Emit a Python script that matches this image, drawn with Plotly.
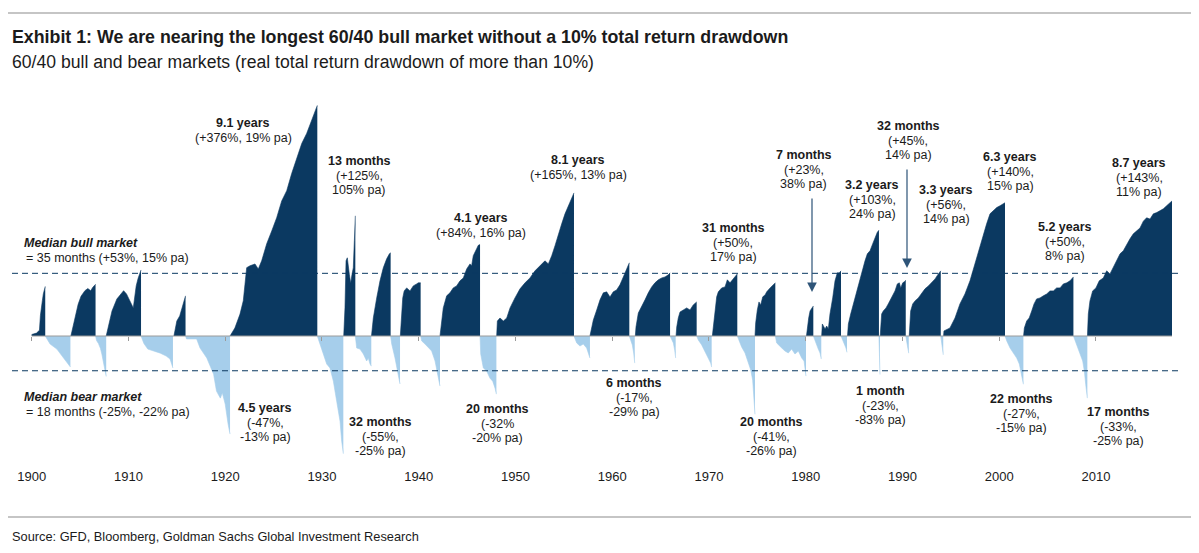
import numpy as np
import plotly.graph_objects as go

# ---------------- data ----------------
# cumulative real total return (%) within each bull phase, by decimal year
BULL_YEARS = [
    [1900.0, 1900.5, 1900.8, 1900.9, 1901.1, 1901.2, 1901.4],
    [1904.05, 1904.5, 1904.8, 1905.1, 1905.5, 1905.8, 1906.1, 1906.3, 1906.6],
    [1907.7, 1908.3, 1908.8, 1909.5, 1909.8, 1910.3, 1910.5, 1910.8, 1911.0, 1911.3],
    [1914.7, 1915.0, 1915.3, 1915.6, 1915.8, 1915.9],
    [1920.5, 1921.0, 1921.53, 1921.87, 1922.22, 1922.56, 1923.08, 1923.42, 1923.77, 1924.29, 1924.81,
     1925.32, 1925.84, 1926.36, 1926.87, 1927.39, 1927.91, 1928.42, 1928.94, 1929.28, 1929.52],
    [1932.25, 1932.38, 1932.49, 1932.62, 1932.83, 1932.97, 1933.11, 1933.24, 1933.35, 1933.45],
    [1935.12, 1935.31, 1935.66, 1936.0, 1936.34, 1936.69, 1936.97, 1937.1],
    [1938.1, 1938.2, 1938.35, 1938.5, 1938.76, 1939.1, 1939.44, 1939.79, 1939.96, 1940.2],
    [1942.2, 1942.27, 1942.54, 1942.89, 1943.23, 1943.57, 1943.92, 1944.27, 1944.61, 1944.96, 1945.3,
     1945.47, 1945.64, 1945.99, 1946.16, 1946.34],
    [1948.06, 1948.13, 1948.4, 1948.75, 1949.1, 1949.44, 1949.95, 1950.47, 1950.99, 1951.5, 1952.02,
     1952.54, 1953.05, 1953.4, 1953.75, 1954.09, 1954.43, 1954.78, 1955.12, 1955.46, 1955.81, 1956.05],
    [1957.7, 1957.75, 1958.05, 1958.4, 1958.74, 1959.08, 1959.43, 1959.77, 1960.11, 1960.46, 1960.8,
     1961.15, 1961.5, 1961.77],
    [1962.39, 1962.46, 1962.7, 1963.05, 1963.39, 1963.73, 1964.08, 1964.42, 1964.77, 1965.12, 1965.46,
     1965.8, 1965.98],
    [1966.6, 1966.67, 1966.83, 1967.01, 1967.35, 1967.7, 1968.04, 1968.38, 1968.73],
    [1970.35, 1970.45, 1970.62, 1970.8, 1970.97, 1971.32, 1971.66, 1971.9, 1972.18, 1972.45, 1972.69, 1972.93],
    [1974.76, 1974.83, 1975.0, 1975.17, 1975.35, 1975.56, 1975.8, 1975.97, 1976.32, 1976.66, 1976.86],
    [1980.08, 1980.17, 1980.31, 1980.45, 1980.62, 1980.79],
    [1981.65, 1981.72, 1982.0, 1982.17, 1982.34, 1982.51, 1982.79, 1983.03, 1983.27, 1983.47, 1983.65],
    [1984.32, 1984.41, 1984.65, 1984.92, 1985.2, 1985.44, 1985.79, 1986.13, 1986.37, 1986.65, 1986.92,
     1987.16, 1987.4, 1987.57],
    [1987.7, 1987.85, 1988.02, 1988.3, 1988.53, 1988.88, 1989.23, 1989.47, 1989.68, 1989.82, 1990.03,
     1990.2, 1990.34],
    [1990.7, 1990.85, 1991.06, 1991.3, 1991.64, 1991.99, 1992.33, 1992.68, 1993.02, 1993.37, 1993.71, 1993.96],
    [1994.25, 1994.29, 1994.91, 1995.43, 1995.94, 1996.46, 1996.98, 1997.49, 1998.01, 1998.36, 1998.7,
     1999.05, 1999.39, 1999.74, 2000.09, 2000.43, 2000.6],
    [2002.52, 2002.6, 2002.84, 2003.1, 2003.36, 2003.6, 2003.87, 2004.22, 2004.56, 2004.91, 2005.25,
     2005.6, 2005.94, 2006.29, 2006.63, 2006.98, 2007.32, 2007.67],
    [2009.12, 2009.21, 2009.38, 2009.66, 2010.0, 2010.34, 2010.76, 2011.11, 2011.45, 2011.79, 2012.14,
     2012.49, 2012.83, 2013.18, 2013.52, 2013.86, 2014.21, 2014.55, 2014.9, 2015.24, 2015.59, 2015.93,
     2016.28, 2016.62, 2016.97, 2017.31, 2017.65, 2017.86],
]
BULL_RETURNS = [
    [1, 2, 4, 15, 27, 33, 40],
    [0, 15, 24, 31, 36, 38, 36, 39, 42],
    [0, 18.5, 28.5, 36, 33, 25, 21, 40.5, 48, 56.5],
    [0, 10.7, 14.6, 22.6, 29.5, 31.3],
    [0, 5.6, 16, 27, 59, 61, 63, 57.6, 66.5, 87, 104, 123, 150, 168, 201, 236, 269, 295, 331, 361, 378],
    [0, 21, 66.5, 70, 52, 43, 52, 59, 91, 126],
    [0, 13, 29.5, 45.4, 58.8, 68.8, 74.6, 75.8],
    [0, 14.6, 29.5, 35.8, 38.6, 35.8, 40.5, 42.4, 43.4, 43.4],
    [0, 3.5, 21, 31.3, 34, 38.6, 40.5, 45.4, 48.3, 57.6, 63.1, 61, 72.4, 80.7, 85, 86],
    [0, 10.7, 13, 10.7, 13, 21, 29.5, 37.7, 43.4, 48.3, 55.6, 61, 66.5, 63.1, 72.4, 84.6, 100, 114, 129,
     142, 154, 164],
    [0, 2, 11.5, 19.3, 27.8, 34, 34.9, 30.3, 34.9, 36.7, 41.5, 49.3, 56.6, 64.3],
    [0, 6.3, 16.9, 21.8, 27.8, 34, 39.5, 43.4, 46.4, 48.3, 49.3, 51.4, 53.5],
    [0, 6.3, 13, 17.7, 19.3, 21, 19.3, 23.5, 26],
    [0, 6.3, 16.9, 30.4, 34.9, 38.6, 39.5, 46.4, 43.4, 46.4, 49.3, 52.4],
    [0, 9.3, 19.3, 26, 23.5, 30.4, 32.1, 34.9, 38.6, 41.5, 43.4],
    [0, 5.6, 13, 18.5, 21, 22.6],
    [0, 8.5, 4.9, 7, 4.9, 16.1, 29.5, 45.4, 53.5, 53.5, 55.6],
    [0, 8.5, 16.1, 24.3, 33, 40.5, 52.4, 66.5, 74.6, 78.3, 86.8, 94.7, 102, 105],
    [0, 16.1, 18.5, 21, 24.3, 29.5, 35.8, 42.4, 43.4, 38.6, 43.4, 44.5, 46],
    [0, 18.5, 24.3, 26.9, 29.5, 34, 37.7, 40.5, 43.4, 47.3, 52.4, 55.6],
    [0, 3.5, 5.6, 13, 24.3, 33, 45.4, 63.1, 82, 100, 114, 129, 134, 139, 142, 145, 147],
    [0, 5.6, 10.7, 13, 18.5, 24.3, 28.6, 29.5, 31.3, 33, 35.8, 35.8, 38.6, 38.6, 42.4, 43.4, 45.4, 49.3],
    [0, 16.1, 26.9, 35.8, 38.6, 45.4, 48.3, 55.6, 52.4, 58.8, 66.5, 74.6, 78.3, 86.8, 93.4, 100, 104, 108,
     118, 123, 121, 129, 131, 134, 137, 142, 147, 150],
]

# real total return drawdown (%) from the previous peak, by decimal year
BEAR_YEARS = [
    [1901.4, 1901.9, 1902.6, 1902.9, 1903.4, 1903.8, 1904.0],
    [1906.6, 1906.7, 1906.9, 1907.1, 1907.25, 1907.4, 1907.55, 1907.7],
    [1911.3, 1911.6, 1912.0, 1912.6, 1913.3, 1913.9, 1914.3, 1914.6],
    [1915.9, 1916.0, 1917.05, 1917.4, 1918.1, 1918.8, 1919.1, 1919.5, 1919.7, 1920.0, 1920.3, 1920.5],
    [1929.52, 1929.8, 1930.14, 1930.49, 1930.83, 1931.18, 1931.52, 1931.87, 1932.04, 1932.21],
    [1933.45, 1933.59, 1933.93, 1934.28, 1934.62, 1934.79, 1934.97, 1935.1],
    [1937.1, 1937.21, 1937.55, 1937.73, 1937.9, 1938.07],
    [1940.2, 1940.31, 1940.65, 1940.99, 1941.34, 1941.69, 1941.93, 1942.1, 1942.2],
    [1946.34, 1946.41, 1946.68, 1947.03, 1947.37, 1947.65, 1947.89, 1948.03],
    [1956.05, 1956.33, 1956.67, 1957.01, 1957.36, 1957.53, 1957.7],
    [1961.77, 1961.91, 1962.08, 1962.22, 1962.33],
    [1965.98, 1966.15, 1966.32, 1966.46, 1966.56],
    [1968.73, 1968.9, 1969.25, 1969.59, 1969.93, 1970.18, 1970.28],
    [1972.93, 1973.1, 1973.38, 1973.73, 1974.07, 1974.32, 1974.52, 1974.66, 1974.73, 1974.76],
    [1976.86, 1977.0, 1977.52, 1977.86, 1978.2, 1978.55, 1978.89, 1979.24, 1979.59, 1979.83, 1980.03],
    [1980.79, 1980.96, 1981.13, 1981.3, 1981.48, 1981.61],
    [1983.65, 1983.82, 1983.99, 1984.16, 1984.27],
    [1987.57, 1987.62, 1987.68],
    [1990.34, 1990.5, 1990.65],
    [1993.96, 1994.1, 1994.22],
    [2000.6, 2000.78, 2001.12, 2001.47, 2001.81, 2002.08, 2002.33, 2002.43, 2002.5],
    [2007.67, 2007.84, 2008.08, 2008.36, 2008.63, 2008.8, 2008.94, 2009.05, 2009.11],
]
BEAR_RETURNS = [
    [0, -5.3, -8.5, -10.9, -14.5, -17.3, -19],
    [0, -3, -5, -8, -11.5, -15.5, -20, -24],
    [0, -5, -8.5, -9.7, -11, -12.7, -14.5, -19.5],
    [0, -2, -2, -7.8, -13.9, -22.8, -31.2, -34.4, -32, -37, -45, -48.6],
    [0, -5.3, -11.5, -17.3, -19.5, -26.4, -35.7, -43.9, -51, -55],
    [0, -7.8, -8.5, -11.5, -15.6, -13.9, -17.3, -18.5],
    [0, -5.3, -13.9, -19.5, -24.9, -27.8],
    [0, -3.3, -5.3, -7.8, -9.7, -15.6, -21.2, -26.4, -28.8],
    [0, -11.5, -19.5, -21.2, -24.9, -26.4, -29.8, -32.6],
    [0, -4.6, -6.6, -5.3, -7.8, -10.9, -13.9],
    [0, -2.7, -5.9, -10.9, -16.8],
    [0, -2.7, -4.6, -9.1, -13.9],
    [0, -2.7, -5.9, -10.3, -13.9, -16.8, -19],
    [0, -2.7, -7.2, -10.9, -16.2, -20.6, -25.9, -34, -39.5, -41.2],
    [0, -4.6, -7.8, -9.7, -10.9, -8.5, -11.5, -9.7, -13.9, -15.6, -23.8],
    [0, -3.3, -5.3, -8.5, -10.9, -14.5],
    [0, -3.3, -5.3, -7.8, -10.5],
    [0, -10, -23],
    [0, -6, -11],
    [0, -6, -12],
    [0, -3.3, -7.8, -10.9, -13.9, -17.3, -22.8, -26.4, -27.9],
    [0, -3.3, -7.8, -11.5, -15.6, -21.2, -27.9, -32.6, -34.4],
]

MEDIAN_BULL = 53    # % (position of the dashed line)
MEDIAN_BEAR = -21   # % (position of the dashed line)

TICK_YEARS = [1900, 1910, 1920, 1930, 1940, 1950, 1960, 1970, 1980, 1990, 2000, 2010]
TICK_LABELS = ["1900", "1910", "1920", "1930", "1940", "1950", "1960", "1970", "1980", "1990", "2000", "2010"]

TITLE = "Exhibit 1: We are nearing the longest 60/40 bull market without a 10% total return drawdown"
SUBTITLE = "60/40 bull and bear markets (real total return drawdown of more than 10%)"
SOURCE = "Source: GFD, Bloomberg, Goldman Sachs Global Investment Research"

# phase labels: (bold first line, other lines)
PHASE_LABELS = [
    ("9.1 years", ["(+376%, 19% pa)"]),
    ("13 months", ["(+125%,", "105% pa)"]),
    ("4.1 years", ["(+84%, 16% pa)"]),
    ("8.1 years", ["(+165%, 13% pa)"]),
    ("31 months", ["(+50%,", "17% pa)"]),
    ("7 months", ["(+23%,", "38% pa)"]),
    ("32 months", ["(+45%,", "14% pa)"]),
    ("3.2 years", ["(+103%,", "24% pa)"]),
    ("3.3 years", ["(+56%,", "14% pa)"]),
    ("6.3 years", ["(+140%,", "15% pa)"]),
    ("5.2 years", ["(+50%,", "8% pa)"]),
    ("8.7 years", ["(+143%,", "11% pa)"]),
    ("4.5 years", ["(-47%,", "-13% pa)"]),
    ("32 months", ["(-55%,", "-25% pa)"]),
    ("20 months", ["(-32%", "-20% pa)"]),
    ("6 months", ["(-17%,", "-29% pa)"]),
    ("20 months", ["(-41%,", "-26% pa)"]),
    ("1 month", ["(-23%,", "-83% pa)"]),
    ("22 months", ["(-27%,", "-15% pa)"]),
    ("17 months", ["(-33%,", "-25% pa)"]),
]
MEDIAN_TEXT = [("Median bull market", "= 35 months (+53%, 15% pa)"),
               ("Median bear market", "= 18 months (-25%, -22% pa)")]

# ---------------- layout / style ----------------
NAVY = "#0B3961"
LIGHT = "#A6CEEB"
TEXT = "#1b1b1b"
GREY = "#9a9a9a"
FONT = "Liberation Sans, Arial, sans-serif"

PAGE_W, PAGE_H = 1199, 553
OFF = 8                      # page body margin: the figure starts at (8, 8)
W, H = PAGE_W - OFF, PAGE_H - OFF
# plot area in page pixels
L, R, T, B = 20, 1190, 95, 467
PX_PER_YEAR = 9.675
X0 = 1900 - (31.7 - L) / PX_PER_YEAR
X1 = X0 + (R - L) / PX_PER_YEAR
PX_PER_LN = 147.4
ZERO_PX = 336
Y0 = -(B - ZERO_PX) / PX_PER_LN
Y1 = Y0 + (B - T) / PX_PER_LN


def to_y(r):
    return np.log1p(np.asarray(r, dtype=float) / 100.0)


def px(xp):
    return (xp - L) / (R - L)


def py(yp):
    return (B - yp) / (B - T)


fig = go.Figure()
for yrs, rets in zip(BEAR_YEARS, BEAR_RETURNS):
    fig.add_trace(go.Scatter(x=yrs, y=to_y(rets), mode="lines", line=dict(width=0.6, color=LIGHT),
                             fill="tozeroy", fillcolor=LIGHT, hoverinfo="skip", showlegend=False))
for yrs, rets in zip(BULL_YEARS, BULL_RETURNS):
    fig.add_trace(go.Scatter(x=yrs, y=to_y(rets), mode="lines", line=dict(width=0.6, color=NAVY),
                             fill="tozeroy", fillcolor=NAVY, hoverinfo="skip", showlegend=False))

shapes = []
for v in (MEDIAN_BULL, MEDIAN_BEAR):
    yv = float(to_y(v))
    shapes.append(dict(type="line", xref="paper", yref="y", x0=px(12), x1=px(1182), y0=yv, y1=yv,
                       line=dict(color=NAVY, width=1, dash="6px,4px"), layer="above"))
shapes.append(dict(type="line", xref="x", yref="y", x0=BULL_YEARS[0][0], x1=BULL_YEARS[-1][-1],
                   y0=0, y1=0, line=dict(color=GREY, width=1), layer="above"))
for yy in (13, 517):
    shapes.append(dict(type="line", xref="paper", yref="paper", x0=px(8), x1=px(1191),
                       y0=py(yy), y1=py(yy), line=dict(color="#8c8c8c", width=1.2)))

ann = []
ann.append(dict(text="<b>" + TITLE + "</b>", x=px(10), y=py(37), xref="paper", yref="paper",
                xanchor="left", yanchor="middle", showarrow=False,
                font=dict(family=FONT, size=17.8, color=TEXT)))
ann.append(dict(text=SUBTITLE, x=px(10), y=py(62), xref="paper", yref="paper",
                xanchor="left", yanchor="middle", showarrow=False,
                font=dict(family=FONT, size=17.6, color=TEXT)))
ann.append(dict(text=SOURCE, x=px(10), y=py(536), xref="paper", yref="paper",
                xanchor="left", yanchor="middle", showarrow=False,
                font=dict(family=FONT, size=12.8, color=TEXT)))

LABEL_POS = [(243, 123), (359, 161), (481, 218), (578, 160), (733, 228), (804, 155), (908, 126),
             (872, 185), (946, 190), (1010, 157), (1065, 227), (1139, 163),
             (265, 408), (380, 422), (497, 409), (634, 383), (771, 422), (880, 391), (1021, 399),
             (1118, 412)]
LINE_STEP = 14.6
for (head, rest), (cx, cy) in zip(PHASE_LABELS, LABEL_POS):
    ann.append(dict(text="<b>" + head + "</b>", x=px(cx), y=py(cy), xref="paper", yref="paper",
                    xanchor="center", yanchor="middle", showarrow=False,
                    font=dict(family=FONT, size=12.5, color=TEXT)))
    for i, line in enumerate(rest):
        ann.append(dict(text=line, x=px(cx), y=py(cy + LINE_STEP * (i + 1)), xref="paper", yref="paper",
                        xanchor="center", yanchor="middle", showarrow=False,
                        font=dict(family=FONT, size=12.5, color=TEXT)))

for (head, line), (lx, ly) in zip(MEDIAN_TEXT, [(22, 243), (22, 397)]):
    ann.append(dict(text="<b><i>" + head + "</i></b>", x=px(lx), y=py(ly), xref="paper", yref="paper",
                    xanchor="left", yanchor="middle", showarrow=False,
                    font=dict(family=FONT, size=12.5, color=TEXT)))
    ann.append(dict(text=line, x=px(lx + 2), y=py(ly + 15), xref="paper", yref="paper",
                    xanchor="left", yanchor="middle", showarrow=False,
                    font=dict(family=FONT, size=12.5, color=TEXT)))

for (ax_, y_top, y_tip) in [(812, 197, 292), (907, 168, 268)]:
    ann.append(dict(text="", x=px(ax_), y=py(y_tip), xref="paper", yref="paper",
                    ax=0, ay=-(y_tip - y_top), axref="pixel", ayref="pixel",
                    showarrow=True, arrowhead=2, arrowsize=1.6, arrowwidth=1.2, arrowcolor="#2e5478"))

fig.update_layout(
    width=W, height=H,
    margin=dict(l=L - OFF, r=PAGE_W - R, t=T - OFF, b=PAGE_H - B),
    paper_bgcolor="white", plot_bgcolor="white",
    showlegend=False,
    shapes=shapes, annotations=ann,
    xaxis=dict(range=[X0, X1], showgrid=False, zeroline=False, showline=False,
               tickmode="array", tickvals=TICK_YEARS, ticktext=TICK_LABELS, ticks="",
               tickfont=dict(family=FONT, size=13, color=TEXT), fixedrange=True),
    xaxis2=dict(range=[X0, X1], overlaying="x", anchor="free", position=(0 - Y0) / (Y1 - Y0),
                side="bottom", showgrid=False, zeroline=False, showline=False,
                tickmode="array", tickvals=TICK_YEARS, ticks="outside", ticklen=4, tickwidth=1,
                tickcolor=GREY, showticklabels=False, layer="above traces"),
    yaxis=dict(range=[Y0, Y1], visible=False, fixedrange=True),
)
fig.add_trace(go.Scatter(x=[TICK_YEARS[0]], y=[0], xaxis="x2", mode="markers",
                         marker=dict(opacity=0), hoverinfo="skip", showlegend=False))

fig.write_html("out.html")
